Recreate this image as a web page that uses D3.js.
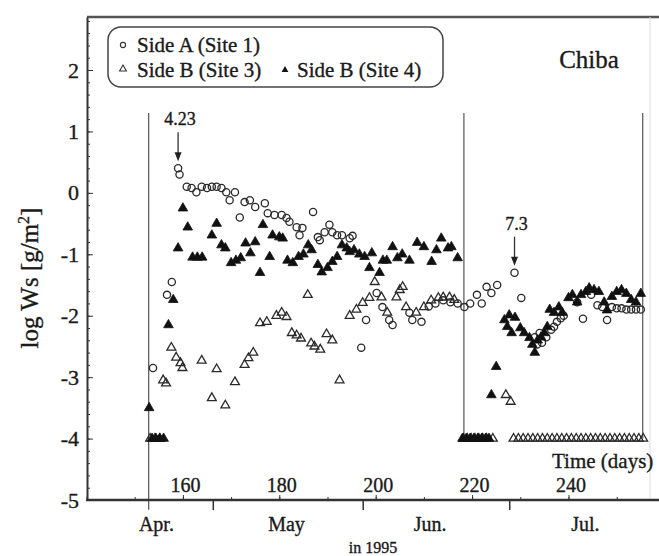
<!DOCTYPE html>
<html>
<head>
<meta charset="utf-8">
<script src="https://cdn.jsdelivr.net/npm/d3@7"></script>
<style>
    body { margin: 0; background: #fff; }
    svg text { font-family: "Liberation Serif", "DejaVu Serif", serif; fill: #1a1a1a; stroke: #1a1a1a; stroke-width: 0.35px; }
    .axis path, .axis line { stroke: #333; }
</style>
</head>
<body>
<svg id="chart" width="659" height="556"></svg>
<script>
// values: [day, log Ws]
var site1 = [
    [153.8,-2.85],[156.7,-1.66],[157.7,-1.45],[159.0,0.40],[159.3,0.30],
    [160.8,0.10],[161.8,0.08],[162.8,0.01],[163.9,0.10],[165.0,0.08],[166.0,0.10],[167.0,0.10],
    [168.0,0.08],[169.0,0.01],[169.7,-0.12],[170.8,0.01],[171.8,-0.40],[172.8,-0.15],[173.9,-0.12],
    [175.0,-0.23],[177.0,-0.17],[177.6,-0.33],[179.0,-0.36],[180.5,-0.36],[181.5,-0.41],[182.1,-0.47],
    [183.6,-0.56],[184.2,-0.69],[184.8,-0.57],[187.0,-0.31],[188.0,-0.72],[188.4,-0.77],[189.4,-0.64],
    [190.4,-0.52],[191.0,-0.64],[192.0,-0.69],[193.0,-0.69],[194.6,-0.74],[195.2,-0.70],
    [197.0,-2.52],[198.0,-2.07],[200.2,-1.63],[201.4,-1.86],[202.8,-2.07],[203.5,-2.15],[207.0,-1.95],
    [207.6,-2.07],[209.5,-2.10],[211.0,-1.85],[212.4,-1.80],[214.0,-1.75],[215.5,-1.78],[217.0,-1.80],
    [218.4,-1.86],[219.6,-1.80],[221.0,-1.66],[222.0,-1.80],[223.0,-1.53],[224.0,-1.63],[225.2,-1.50],
    [228.8,-1.30],[230.2,-1.71],
    [233.0,-2.35],[233.5,-2.47],[234.0,-2.28],[234.5,-2.44],[235.4,-2.35],[236.4,-2.23],[237.0,-2.18],
    [237.6,-2.10],[238.4,-2.04],[239.0,-2.00],[241.8,-1.78],[243.0,-2.05],[244.7,-1.66],[246.0,-1.83],
    [247.0,-1.86],[248.0,-2.07],[249.0,-1.86],[250.0,-1.88],[251.0,-1.88],[252.0,-1.90],[253.0,-1.90],
    [254.0,-1.90],[255.0,-1.90]
];

var site3 = [
    [153.2,-4],[154.2,-4],[155.2,-4],[155.9,-3.05],[156.5,-3.10],[157.6,-2.52],[158.6,-2.68],[159.5,-2.77],
    [159.9,-2.85],[163.9,-2.73],[166.0,-3.34],[167.0,-2.87],[168.8,-3.46],[170.8,-3.08],[172.8,-2.80],
    [173.6,-2.69],[174.6,-2.60],[176.0,-2.12],[177.4,-2.10],[179.4,-2.00],[180.5,-1.95],[181.5,-2.02],
    [182.6,-2.28],[183.6,-2.32],[184.5,-2.37],[185.9,-1.66],[186.6,-2.45],[187.3,-2.50],[188.5,-2.55],
    [189.8,-2.30],[191.0,-2.40],[192.5,-3.05],[194.6,-2.00],[196.0,-1.90],[197.3,-1.79],[198.7,-1.71],
    [199.8,-1.45],[201.2,-1.70],[202.4,-1.95],[204.3,-1.70],[205.0,-1.58],[205.6,-1.53],[206.3,-1.86],
    [208.4,-1.95],[210.0,-1.86],[211.5,-1.75],[213.0,-1.71],[214.0,-1.70],[215.3,-1.70],[216.3,-1.74],
    [218.2,-4],[219.0,-4],[219.8,-4],[220.6,-4],[221.4,-4],[222.2,-4],[223.0,-4],[224.3,-4],
    [227.0,-3.29],[228.0,-3.40],
    [228.6,-4],[229.6,-4],[230.6,-4],[231.6,-4],[232.6,-4],[233.6,-4],[234.6,-4],[235.6,-4],[236.6,-4],
    [237.6,-4],[238.6,-4],[239.6,-4],[240.6,-4],[241.6,-4],[242.6,-4],[243.6,-4],[244.6,-4],[245.6,-4],
    [246.6,-4],[247.6,-4],[248.6,-4],[249.6,-4],[250.6,-4],[251.6,-4],[252.6,-4],[253.6,-4],[254.6,-4],
    [255.5,-4]
];

var site4 = [
    [153.0,-3.5],[153.6,-4],[154.4,-4],[155.2,-4],[156.0,-4],[157.0,-2.15],[158.0,-1.74],[159.0,-0.90],
    [160.0,-0.25],[161.0,-0.56],[162.0,-1.05],[163.0,-1.05],[164.0,-1.05],[166.0,-0.69],[167.0,-0.50],
    [168.0,-0.85],[168.8,-0.90],[170.0,-1.14],[171.0,-1.10],[172.0,-1.06],[173.0,-0.82],[174.0,-0.98],
    [175.0,-0.80],[176.0,-1.30],[176.6,-0.52],[178.0,-1.04],[178.6,-0.69],[180.0,-0.72],[180.7,-0.74],
    [181.7,-1.10],[182.8,-1.14],[184.0,-1.04],[185.0,-1.00],[186.0,-0.85],[186.7,-0.93],[188.0,-1.17],
    [188.8,-1.29],[190.0,-1.22],[191.0,-1.12],[192.0,-1.04],[193.0,-0.85],[194.0,-0.90],[194.6,-0.96],
    [195.5,-0.93],[196.6,-1.00],[197.7,-1.04],[198.7,-1.22],[199.2,-0.98],[200.8,-1.30],[201.5,-1.10],
    [202.3,-1.10],[203.5,-0.88],[204.5,-1.06],[205.5,-1.00],[207.0,-1.10],[208.6,-0.81],[210.0,-0.88],
    [211.6,-1.12],[212.6,-0.93],[213.6,-0.74],[215.0,-0.90],[215.7,-0.88],[217.0,-1.06],
    [218.0,-4],[218.8,-4],[219.6,-4],[220.4,-4],[221.2,-4],[222.0,-4],[222.8,-4],[223.5,-4],
    [224.0,-3.29],[225.0,-2.83],
    [226.7,-2.07],[227.3,-2.18],[227.7,-1.99],[228.2,-2.28],[228.9,-2.03],[230.0,-2.20],[230.8,-2.28],
    [231.9,-2.36],[232.5,-2.47],[233.0,-2.60],[233.6,-2.40],[234.3,-2.35],[235.0,-2.28],[235.6,-2.18],
    [236.1,-1.90],[237.0,-1.95],[238.0,-1.86],[238.7,-1.95],[240.0,-1.71],[240.8,-1.66],[241.8,-1.78],
    [242.6,-1.66],[243.6,-1.61],[244.3,-1.55],[245.3,-1.58],[246.3,-1.61],[247.4,-1.78],[248.0,-1.91],
    [249.0,-1.69],[250.0,-1.61],[251.0,-1.58],[252.0,-1.64],[253.0,-1.74],[254.0,-1.78],[255.0,-1.64]
];

var yTicks = [2, 1, 0, -1, -2, -3, -4, -5];
var xTicks = [160, 180, 200, 220, 240];
var monthBounds = [166.2, 197.3, 227.7];
var monthNames = ["Apr.", "May", "Jun.", "Jul."];
var monthCenters = [154.5, 181.5, 211.3, 243.5];
var eventDays = [152.9, 218.3, 255.4];
var eventEnds = [-5.16, -4, -4];
var notes = [
    { day: 159.0, val: 0.40, label: "4.23" },
    { day: 228.8, val: -1.30, label: "7.3" }
];

var svg = d3.select("#chart");

var x = d3.scaleLinear().domain([140, 260]).range([86.5, 664.9]);
var y = d3.scaleLinear().domain([-5, 2.863]).range([500, 17]);

// frame: top rule and faint right edge
svg.append("line").attr("x1", 87).attr("x2", 659).attr("y1", 17).attr("y2", 17)
    .attr("stroke", "#555").attr("stroke-width", 2.5);
svg.append("line").attr("x1", 650).attr("x2", 650).attr("y1", 17).attr("y2", 500)
    .attr("stroke", "#ddd").attr("stroke-width", 1);

// event lines
svg.selectAll(".event").data(eventDays).enter().append("line")
    .attr("class", "event")
    .attr("x1", function(d) { return x(d); }).attr("x2", function(d) { return x(d); })
    .attr("y1", y(1.3))
    .attr("y2", function(d, i) { return y(eventEnds[i]); })
    .attr("stroke", "#555").attr("stroke-width", 1.2);

// y axis
var yMinor = d3.range(-5, 2.81, 0.2);
svg.append("g").attr("class", "axis").attr("transform", "translate(87,0)")
    .call(d3.axisLeft(y).tickValues(yMinor).tickSize(-3).tickFormat(""))
    .call(function(g) { g.select(".domain").remove(); });
svg.append("g").attr("class", "axis").attr("transform", "translate(87,0)")
    .call(d3.axisLeft(y).tickValues(yTicks).tickSize(-6).tickSizeOuter(0).tickPadding(8)
        .tickFormat(function(d) { return d < 0 ? "-" + Math.abs(d) : d; }))
    .call(function(g) {
        g.select(".domain").attr("stroke-width", 2);
        g.selectAll("text").style("font-size", "22px");
    });

// x axis (labels sit above the line, inside the plot)
svg.append("g").attr("class", "axis").attr("transform", "translate(0,500)")
    .call(d3.axisTop(x).tickValues(d3.range(140, 260, 10)).tickSize(3).tickFormat(""))
    .call(function(g) { g.select(".domain").remove(); });
svg.append("g").attr("class", "axis").attr("transform", "translate(0,500)")
    .call(d3.axisTop(x).tickValues(xTicks).tickSize(5).tickPadding(3))
    .call(function(g) {
        g.select(".domain").remove();
        g.selectAll("text").style("font-size", "20px").attr("dx", 2);
    });
svg.append("line").attr("x1", 86).attr("x2", 659).attr("y1", 500).attr("y2", 500)
    .attr("stroke", "#333").attr("stroke-width", 2.5);

// month boundaries below the axis
svg.append("g").attr("class", "axis").attr("transform", "translate(0,500)")
    .call(d3.axisBottom(x).tickValues(monthBounds).tickSize(10).tickFormat(""))
    .call(function(g) { g.select(".domain").remove(); g.selectAll("line").attr("stroke-width", 1.5); });

svg.selectAll(".month").data(monthNames).enter().append("text")
    .attr("class", "month")
    .attr("x", function(d, i) { return x(monthCenters[i]); })
    .attr("y", 531)
    .attr("text-anchor", "middle")
    .style("font-size", "20px")
    .text(function(d) { return d; });

svg.append("text").attr("x", 373).attr("y", 553).attr("text-anchor", "middle")
    .style("font-size", "16px").text("in 1995");

svg.append("text").attr("x", 552).attr("y", 468)
    .style("font-size", "21px").text("Time (days)");

// y title
var yTitle = svg.append("text")
    .attr("transform", "translate(38,278) rotate(-90)")
    .attr("text-anchor", "middle")
    .style("font-size", "25px");
yTitle.append("tspan").text("log Ws [g/m");
yTitle.append("tspan").attr("dy", -9).style("font-size", "16px").text("2");
yTitle.append("tspan").attr("dy", 9).text("]");

svg.append("text").attr("x", 589).attr("y", 68).attr("text-anchor", "middle")
    .style("font-size", "25px").text("Chiba");

// markers
var tri = d3.symbol().type(d3.symbolTriangle).size(34);
var triFill = d3.symbol().type(d3.symbolTriangle).size(40);

svg.append("g").selectAll("path").data(site3).enter().append("path")
    .attr("d", tri)
    .attr("transform", function(d) { return "translate(" + x(d[0]) + "," + y(d[1]) + ")"; })
    .attr("fill", "none").attr("stroke", "#2a2a2a").attr("stroke-width", 1.3);

svg.append("g").selectAll("circle").data(site1).enter().append("circle")
    .attr("cx", function(d) { return x(d[0]); })
    .attr("cy", function(d) { return y(d[1]); })
    .attr("r", 3.6)
    .attr("fill", "none").attr("stroke", "#2a2a2a").attr("stroke-width", 1.3);

svg.append("g").selectAll("path").data(site4).enter().append("path")
    .attr("d", triFill)
    .attr("transform", function(d) { return "translate(" + x(d[0]) + "," + y(d[1]) + ")"; })
    .attr("fill", "#111").attr("stroke", "#111").attr("stroke-width", 0.8);

// annotations with down arrows
notes.forEach(function(n) {
    var px = x(n.day), py = y(n.val);
    svg.append("text").attr("x", px + 2).attr("y", py - 43).attr("text-anchor", "middle")
        .style("font-size", "18px").text(n.label);
    svg.append("line").attr("x1", px).attr("x2", px).attr("y1", py - 36).attr("y2", py - 14)
        .attr("stroke", "#333").attr("stroke-width", 1.3);
    svg.append("path")
        .attr("d", "M" + (px - 3.5) + "," + (py - 16) + "L" + (px + 3.5) + "," + (py - 16) + "L" + px + "," + (py - 7) + "Z")
        .attr("fill", "#222");
});

// legend
var lg = svg.append("g");
lg.append("rect").attr("x", 108).attr("y", 27).attr("width", 335).attr("height", 60)
    .attr("rx", 13).attr("fill", "#fff").attr("stroke", "#444").attr("stroke-width", 1.5);
lg.append("circle").attr("cx", 123).attr("cy", 45).attr("r", 2.6)
    .attr("fill", "none").attr("stroke", "#333").attr("stroke-width", 1.1);
lg.append("path").attr("d", d3.symbol().type(d3.symbolTriangle).size(20))
    .attr("transform", "translate(123,69)")
    .attr("fill", "none").attr("stroke", "#333").attr("stroke-width", 1.1);
lg.append("path").attr("d", d3.symbol().type(d3.symbolTriangle).size(20))
    .attr("transform", "translate(285,70)")
    .attr("fill", "#111");
lg.append("text").attr("x", 137).attr("y", 52).style("font-size", "21px").text("Side A (Site 1)");
lg.append("text").attr("x", 137).attr("y", 77).style("font-size", "21px").text("Side B (Site 3)");
lg.append("text").attr("x", 297).attr("y", 77).style("font-size", "21px").text("Side B (Site 4)");
</script>
</body>
</html>
